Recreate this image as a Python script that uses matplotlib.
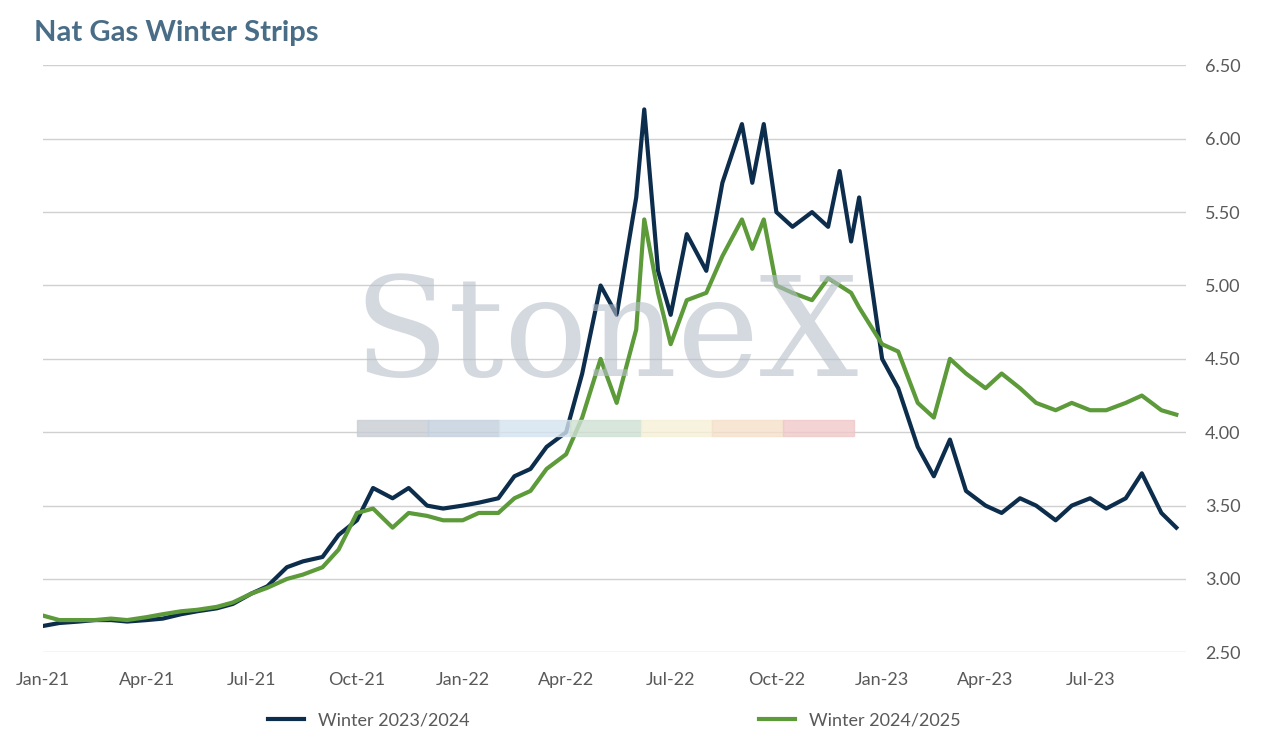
import matplotlib
matplotlib.use("Agg")
import matplotlib.pyplot as plt
import pandas as pd

plt.rcParams['font.family'] = ['Lato', 'DejaVu Sans']

dates = ["2021-01-01","2021-01-15","2021-02-01","2021-02-15","2021-03-01","2021-03-15","2021-04-01","2021-04-15",
 "2021-05-01","2021-05-15","2021-06-01","2021-06-15","2021-07-01","2021-07-15","2021-08-01","2021-08-15",
 "2021-09-01","2021-09-15","2021-10-01","2021-10-15","2021-11-01","2021-11-15","2021-12-01","2021-12-15",
 "2022-01-01","2022-01-15","2022-02-01","2022-02-15","2022-03-01","2022-03-15","2022-04-01","2022-04-15",
 "2022-05-01","2022-05-15","2022-06-01","2022-06-08","2022-06-20","2022-07-01","2022-07-15","2022-08-01",
 "2022-08-15","2022-09-01","2022-09-10","2022-09-20","2022-10-01","2022-10-15","2022-11-01","2022-11-15",
 "2022-11-25","2022-12-05","2022-12-12","2023-01-01","2023-01-15","2023-02-01","2023-02-15","2023-03-01",
 "2023-03-15","2023-04-01","2023-04-15","2023-05-01","2023-05-15","2023-06-01","2023-06-15","2023-07-01",
 "2023-07-15","2023-08-01","2023-08-15","2023-09-01","2023-09-14"]
winter_2324 = [2.68,2.70,2.71,2.72,2.72,2.71,2.72,2.73,2.76,2.78,2.80,2.83,2.90,2.95,3.08,3.12,
 3.15,3.30,3.40,3.62,3.55,3.62,3.50,3.48,3.50,3.52,3.55,3.70,3.75,3.90,4.00,4.40,
 5.00,4.80,5.60,6.20,5.10,4.80,5.35,5.10,5.70,6.10,5.70,6.10,5.50,5.40,5.50,5.40,
 5.78,5.30,5.60,4.50,4.30,3.90,3.70,3.95,3.60,3.50,3.45,3.55,3.50,3.40,3.50,3.55,
 3.48,3.55,3.72,3.45,3.35]
winter_2425 = [2.75,2.72,2.72,2.72,2.73,2.72,2.74,2.76,2.78,2.79,2.81,2.84,2.90,2.94,3.00,3.03,
 3.08,3.20,3.45,3.48,3.35,3.45,3.43,3.40,3.40,3.45,3.45,3.55,3.60,3.75,3.85,4.10,
 4.50,4.20,4.70,5.45,4.95,4.60,4.90,4.95,5.20,5.45,5.25,5.45,5.00,4.95,4.90,5.05,
 5.00,4.95,4.85,4.60,4.55,4.20,4.10,4.50,4.40,4.30,4.40,4.30,4.20,4.15,4.20,4.15,
 4.15,4.20,4.25,4.15,4.12]
tick_labels = ["Jan-21","Apr-21","Jul-21","Oct-21","Jan-22","Apr-22","Jul-22","Oct-22","Jan-23","Apr-23","Jul-23"]

d = pd.to_datetime(dates)
fig = plt.figure(figsize=(12.72, 7.43), dpi=100)
ax = fig.add_axes([0.034, 0.122, 0.898, 0.79])
ax.plot(d, winter_2324, color="#0d2d4d", lw=3.0, label="Winter 2023/2024")
ax.plot(d, winter_2425, color="#5c9a3a", lw=3.0, label="Winter 2024/2025")
ax.set_ylim(2.5, 6.5)
ax.set_xlim(pd.Timestamp("2021-01-01"), pd.Timestamp("2023-09-22"))
ax.yaxis.tick_right()
ax.set_yticks([2.5+0.5*i for i in range(9)])
ax.set_yticklabels([f"{2.5+0.5*i:.2f}" for i in range(9)], color="#595959", fontsize=13)
ax.set_xticks(pd.date_range("2021-01-01", periods=11, freq="QS"))
ax.set_xticklabels(tick_labels, color="#595959", fontsize=13)
ax.grid(axis="y", color="#d0d0d0", lw=1)
ax.tick_params(length=0, pad=14)
for s in ax.spines.values():
    s.set_visible(False)
ax.set_axisbelow(True)
fig.text(0.476, 0.545, "StoneX", fontsize=100, family="DejaVu Serif", color="#b8c0cc", alpha=0.6,
         ha="center", va="center", zorder=0)
cols = ["#c8cdd4","#c3d0de","#d5e4ef","#cfe0d3","#f5f0d6","#f5e0c8","#f0c8c8"]
for i, c in enumerate(cols):
    fig.patches.append(plt.Rectangle((0.281+i*0.0558, 0.413), 0.0558, 0.022, transform=fig.transFigure,
                                     color=c, alpha=0.8, zorder=0))
fig.text(0.027, 0.955, "Nat Gas Winter Strips", fontsize=21, fontweight="bold", color="#4a6d87", va="center")
ax.legend(loc="upper center", bbox_to_anchor=(0.5, -0.075), ncol=2, frameon=False, fontsize=13,
          handlelength=2, columnspacing=16, labelcolor="#595959")
fig.savefig("out.png", dpi=100)
